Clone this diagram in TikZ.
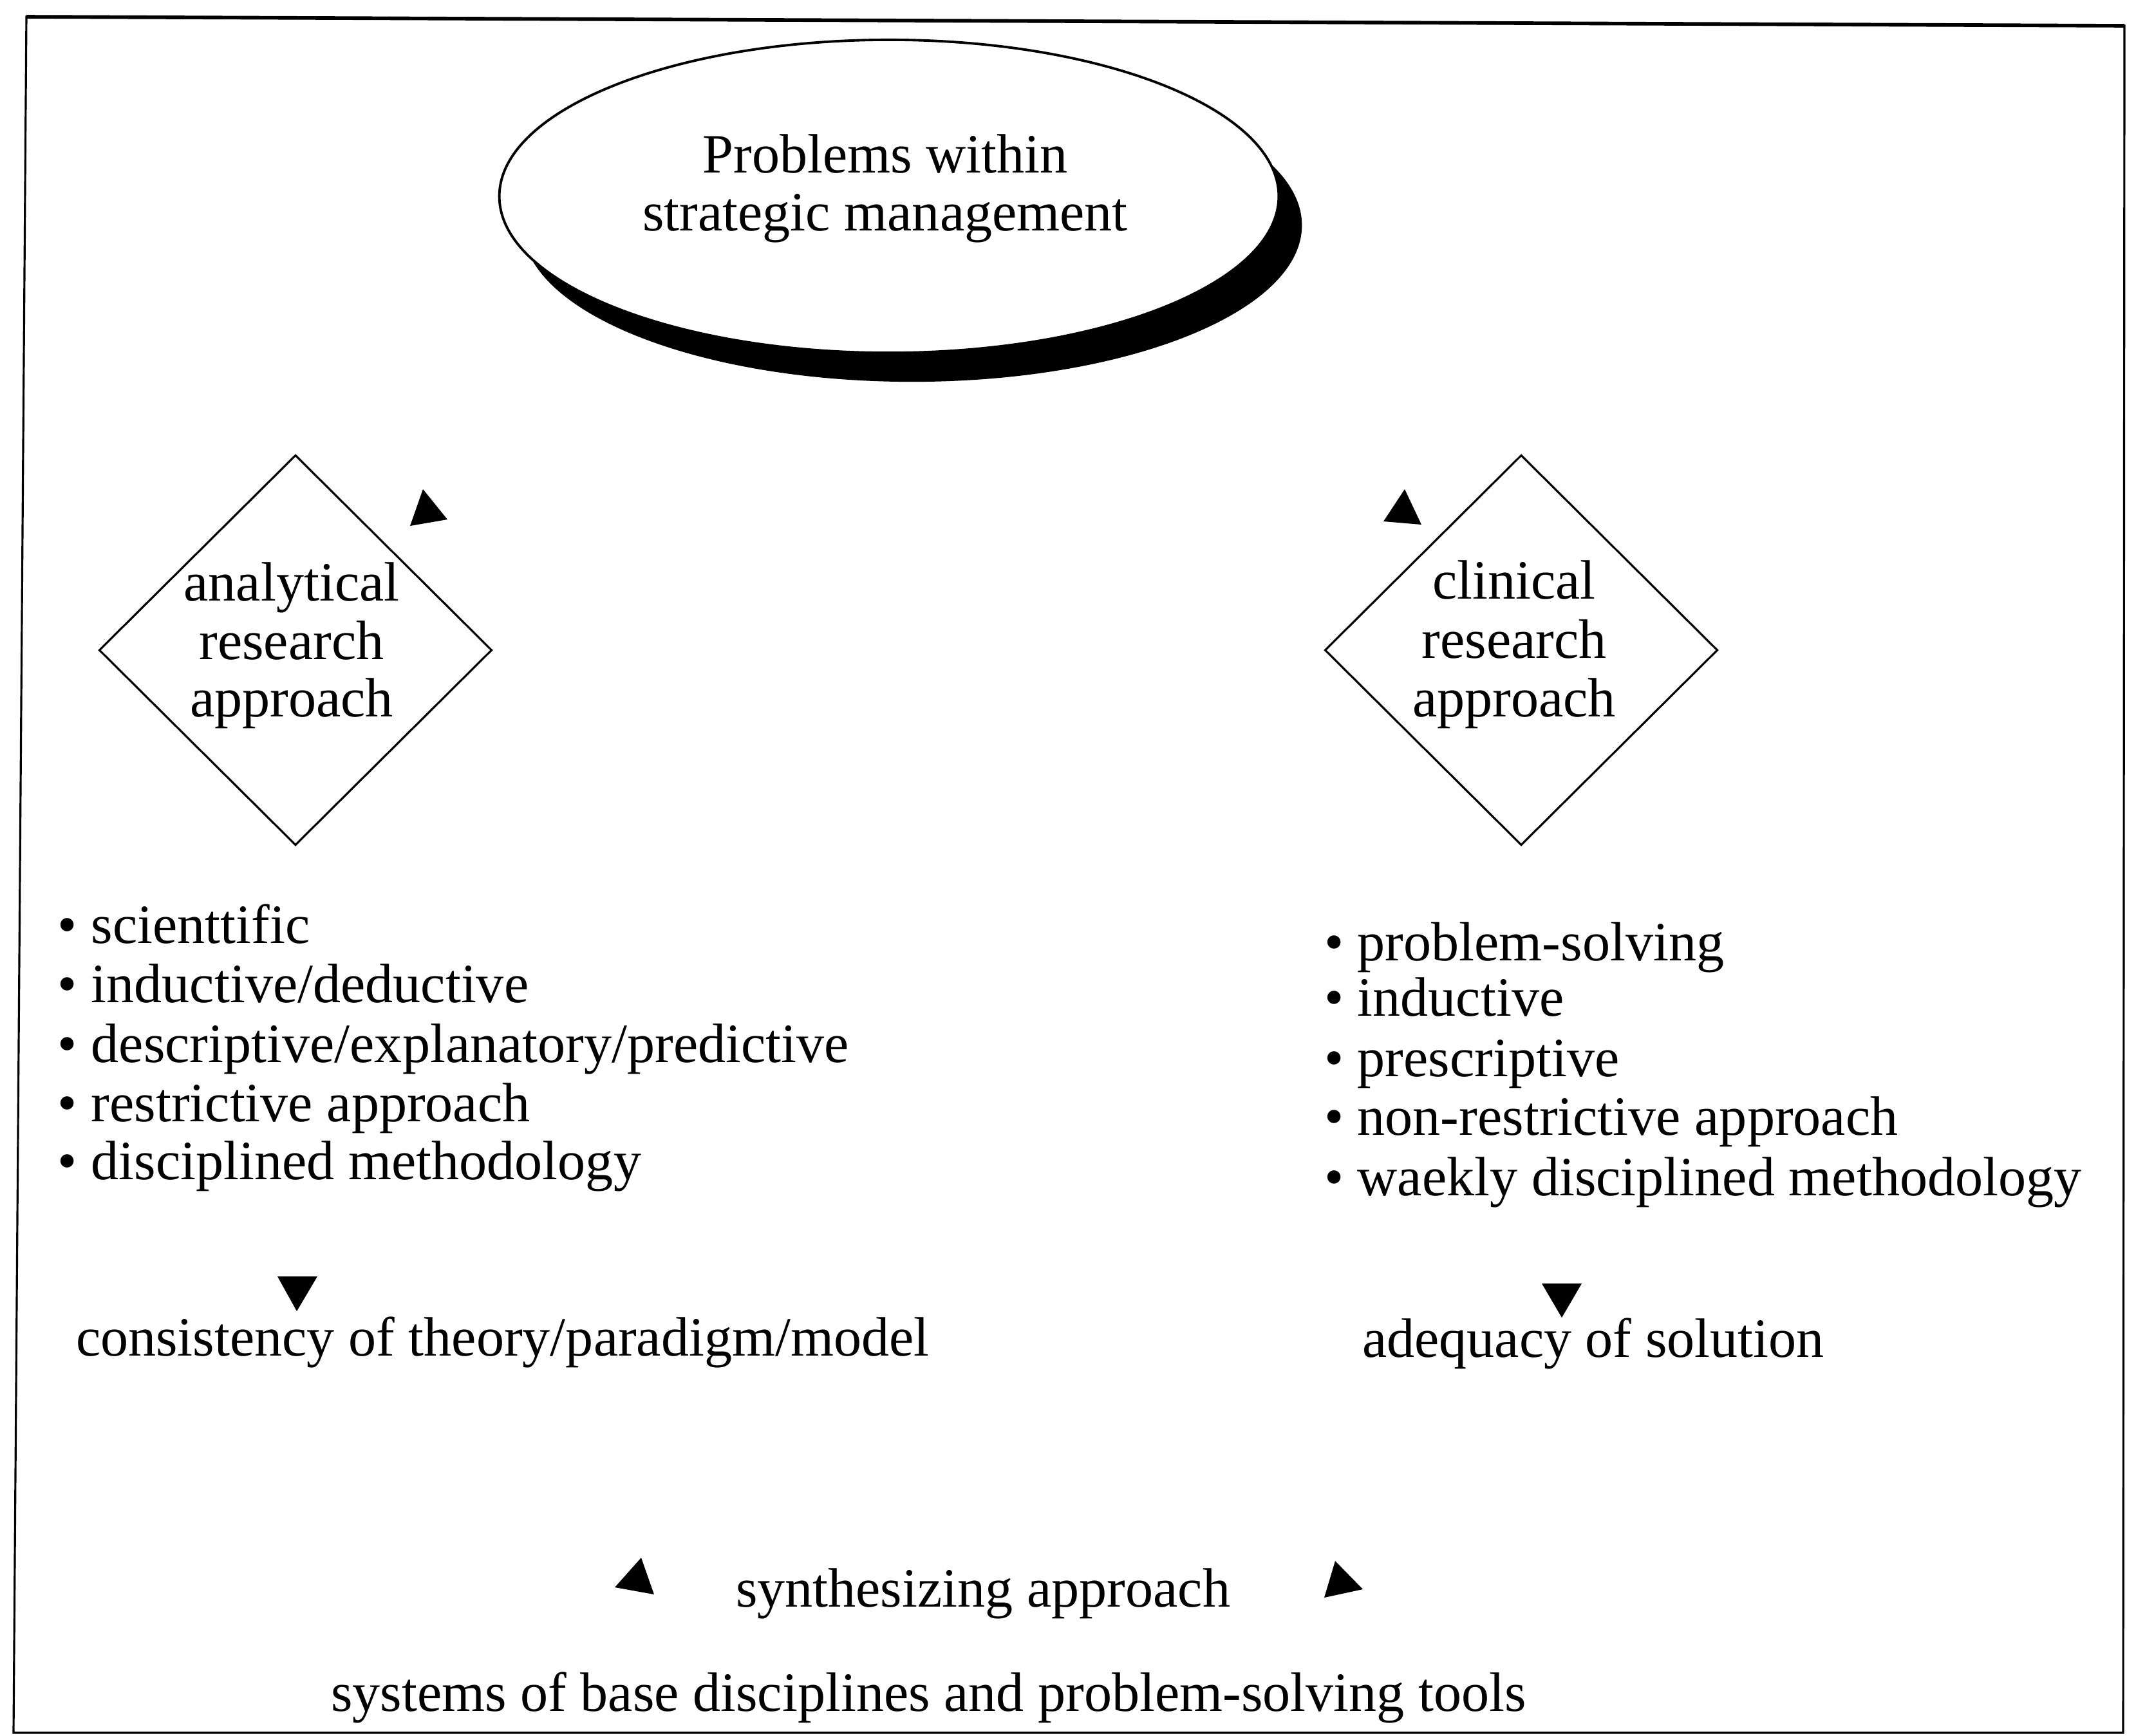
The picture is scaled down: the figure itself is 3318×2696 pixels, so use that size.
\documentclass[tikz,border=0pt]{standalone}
\usepackage{fontspec}
\setmainfont{Liberation Serif}
\usetikzlibrary{shapes.geometric}
\begin{document}
\begin{tikzpicture}[x=0.01cm,y=-0.01cm,
  txt/.style={inner sep=0pt,outer sep=0pt,font=\fontsize{24.5}{29}\selectfont},
  ctxt/.style={txt,anchor=base},
  ltxt/.style={txt,anchor=base west},
  diam/.style={diamond,draw,line width=0.9pt,inner sep=0pt,minimum width=6.1cm,minimum height=6.06cm},
  tri/.style={fill=black}]
\useasboundingbox (0,0) rectangle (3318,2696);
% frame
\coordinate (f1) at (41,26);
\coordinate (f2) at (3300,40);
\coordinate (f3) at (3298,2692);
\coordinate (f4) at (21,2692);
\draw[line width=0.9pt] (f1) -- (f2) -- (f3) -- (f4) -- cycle;
\draw[line width=1.6pt] (f1) -- (f2);
% ellipse with shadow
\node[ellipse,fill=black,inner sep=0pt,minimum width=12.1cm,minimum height=4.86cm] (shadow) at (1417,350) {};
\node[ellipse,draw,fill=white,line width=1.1pt,inner sep=0pt,minimum width=12.1cm,minimum height=4.86cm] (prob) at (1381,305) {};
\node[ctxt] (p1) at (1375,268) {Problems within};
\node[ctxt] (p2) at (1375,358) {strategic management};
% diamonds
\node[diam] (ana) at (459,1010) {};
\node[diam] (cli) at (2363,1010) {};
\node[ctxt] (a1) at (453,933) {analytical};
\node[ctxt] (a2) at (453,1024) {research};
\node[ctxt] (a3) at (453,1113) {approach};
\node[ctxt] (c1) at (2352,930) {clinical};
\node[ctxt] (c2) at (2352,1022) {research};
\node[ctxt] (c3) at (2352,1113) {approach};
% left bullets
\node[ltxt] (l1) at (90,1465) {• scienttific};
\node[ltxt] (l2) at (90,1557) {• inductive/deductive};
\node[ltxt] (l3) at (90,1650) {• descriptive/explanatory/predictive};
\node[ltxt] (l4) at (90,1742) {• restrictive approach};
\node[ltxt] (l5) at (90,1832) {• disciplined methodology};
% right bullets
\node[ltxt] (r1) at (2057,1492) {• problem-solving};
\node[ltxt] (r2) at (2057,1578) {• inductive};
\node[ltxt] (r3) at (2057,1672) {• prescriptive};
\node[ltxt] (r4) at (2057,1763) {• non-restrictive approach};
\node[ltxt] (r5) at (2057,1857) {• waekly disciplined methodology};
% outcomes
\node[ltxt] (cons) at (118,2106) {consistency of theory/paradigm/model};
\node[ltxt] (adeq) at (2116,2108) {adequacy of solution};
\node[ltxt] (syn) at (1143,2496) {synthesizing approach};
\node[ltxt] (sys) at (514,2658) {systems of base disciplines and problem-solving tools};
% arrowheads
\fill[tri] (657,760) -- (637,817) -- (695,807) -- cycle;
\fill[tri] (2182,760) -- (2149,810) -- (2208,815) -- cycle;
\fill[tri] (431,1983) -- (493,1983) -- (461,2037) -- cycle;
\fill[tri] (2395,1994) -- (2457,1994) -- (2426,2047) -- cycle;
\fill[tri] (996,2420) -- (955,2466) -- (1016,2477) -- cycle;
\fill[tri] (2074,2425) -- (2057,2482) -- (2117,2469) -- cycle;
\end{tikzpicture}
\end{document}
